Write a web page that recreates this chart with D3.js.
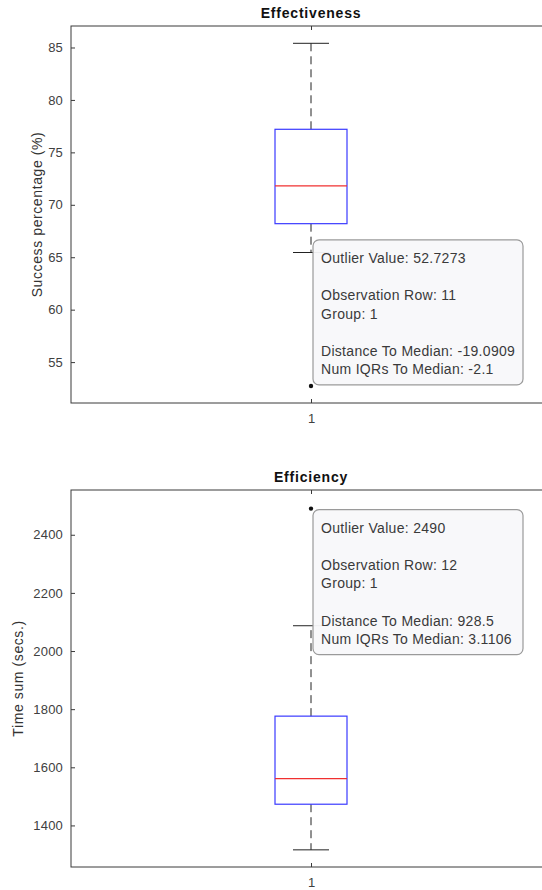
<!DOCTYPE html>
<html>
<head>
<meta charset="utf-8">
<script src="https://cdn.jsdelivr.net/npm/d3@7"></script>
<style>
  body { margin: 0; background: #fff; }
  svg { display: block; font-family: "Liberation Sans", Arial, sans-serif; }
  .tick text { fill: #404040; }
</style>
</head>
<body>
<div id="chart"></div>
<script>
// group labels (single box per panel)
const groups = ['1'];

// Effectiveness panel: [q1, median, q3], whiskers [low, high], outliers
const effBox = [68.2, 71.8, 77.2];
const effWhiskers = [65.45, 85.4];
const effOutliers = [52.7273];
const effTicks = [55, 60, 65, 70, 75, 80, 85];
const effDomain = [51.1, 87.05];
const effTip = ['Outlier Value: 52.7273', '', 'Observation Row: 11', 'Group: 1', '', 'Distance To Median: -19.0909', 'Num IQRs To Median: -2.1'];

// Efficiency panel
const timeBox = [1473, 1561, 1776];
const timeWhiskers = [1316, 2087];
const timeOutliers = [2490];
const timeTicks = [1400, 1600, 1800, 2000, 2200, 2400];
const timeDomain = [1257, 2554];
const timeTip = ['Outlier Value: 2490', '', 'Observation Row: 12', 'Group: 1', '', 'Distance To Median: 928.5', 'Num IQRs To Median: 3.1106'];

const width = 542, height = 890;

const svg = d3.select('#chart').append('svg')
    .attr('width', width)
    .attr('height', height);

const panels = [
    {
        title: 'Effectiveness', ylabel: 'Success percentage (%)', labelX: 37,
        top: 26, bottom: 403, box: effBox, whiskers: effWhiskers, outliers: effOutliers,
        ticks: effTicks, domain: effDomain, tip: effTip, tipAbove: true
    },
    {
        title: 'Efficiency', ylabel: 'Time sum (secs.)', labelX: 18,
        top: 490, bottom: 867, box: timeBox, whiskers: timeWhiskers, outliers: timeOutliers,
        ticks: timeTicks, domain: timeDomain, tip: timeTip, tipAbove: false
    }
];

const left = 71, right = 551;
const axisColor = '#3a3a3a';

panels.forEach(p => {
    const x = d3.scalePoint().domain(groups).range([left, right]).padding(0.5);
    const y = d3.scaleLinear().domain(p.domain).range([p.bottom, p.top]);
    const g = svg.append('g');

    // frame (box on)
    g.append('rect')
        .attr('x', left).attr('y', p.top)
        .attr('width', right - left).attr('height', p.bottom - p.top)
        .attr('fill', 'none')
        .attr('stroke', axisColor)
        .attr('stroke-width', 1);

    // y axis, ticks pointing inward
    const yAxis = g.append('g')
        .attr('transform', `translate(${left},0)`)
        .call(d3.axisLeft(y).tickValues(p.ticks).tickFormat(d3.format('d'))
            .tickSizeInner(-4).tickSizeOuter(0).tickPadding(8));
    yAxis.select('.domain').remove();
    yAxis.selectAll('.tick line').attr('stroke', axisColor);
    yAxis.selectAll('.tick text').attr('font-size', 13).attr('letter-spacing', 0.2);

    // x axis bottom + top tick marks
    const xAxis = g.append('g')
        .attr('transform', `translate(0,${p.bottom})`)
        .call(d3.axisBottom(x).tickSizeInner(-4).tickSizeOuter(0).tickPadding(11));
    xAxis.select('.domain').remove();
    xAxis.selectAll('.tick line').attr('stroke', axisColor);
    xAxis.selectAll('.tick text').attr('font-size', 13);
    const xTop = g.append('g')
        .attr('transform', `translate(0,${p.top})`)
        .call(d3.axisTop(x).tickSizeInner(-4).tickSizeOuter(0).tickFormat(''));
    xTop.select('.domain').remove();
    xTop.selectAll('.tick line').attr('stroke', axisColor);

    // title
    g.append('text')
        .attr('x', (left + right) / 2)
        .attr('y', p.top - 8)
        .attr('text-anchor', 'middle')
        .attr('font-size', 14)
        .attr('font-weight', 'bold')
        .attr('letter-spacing', 0.8)
        .attr('fill', '#111')
        .text(p.title);

    // y label
    const cy = (p.top + p.bottom) / 2;
    g.append('text')
        .attr('transform', `translate(${p.labelX},${cy}) rotate(-90)`)
        .attr('text-anchor', 'middle')
        .attr('dy', '0.35em')
        .attr('font-size', 14)
        .attr('letter-spacing', 0.6)
        .attr('fill', '#333')
        .text(p.ylabel);

    const cx = x(groups[0]);
    const boxHalf = 36, capHalf = 18;

    // whiskers (dashed)
    g.append('line')
        .attr('x1', cx).attr('x2', cx)
        .attr('y1', y(p.box[2])).attr('y2', y(p.whiskers[1]))
        .attr('stroke', '#222').attr('stroke-dasharray', '8,5');
    g.append('line')
        .attr('x1', cx).attr('x2', cx)
        .attr('y1', y(p.box[0])).attr('y2', y(p.whiskers[0]))
        .attr('stroke', '#222').attr('stroke-dasharray', '8,5');

    // caps
    p.whiskers.forEach(w => {
        g.append('line')
            .attr('x1', cx - capHalf).attr('x2', cx + capHalf)
            .attr('y1', y(w)).attr('y2', y(w))
            .attr('stroke', '#222');
    });

    // box
    g.append('rect')
        .attr('x', cx - boxHalf).attr('width', boxHalf * 2)
        .attr('y', y(p.box[2])).attr('height', y(p.box[0]) - y(p.box[2]))
        .attr('fill', 'none')
        .attr('stroke', '#3a3aff')
        .attr('stroke-width', 1.2);

    // median
    g.append('line')
        .attr('x1', cx - boxHalf).attr('x2', cx + boxHalf)
        .attr('y1', y(p.box[1])).attr('y2', y(p.box[1]))
        .attr('stroke', '#f03030')
        .attr('stroke-width', 1.2);

    // outliers
    g.selectAll('circle.outlier')
        .data(p.outliers).enter()
        .append('circle')
        .attr('class', 'outlier')
        .attr('cx', cx).attr('cy', d => y(d))
        .attr('r', 2.2)
        .attr('fill', '#111');

    // datatip
    const py = y(p.outliers[0]);
    const tipW = 210, tipH = 145;
    const tipX = cx + 2;
    const tipY = p.tipAbove ? py - tipH - 1 : py + 1;
    const tip = g.append('g');
    tip.append('rect')
        .attr('x', tipX).attr('y', tipY)
        .attr('width', tipW).attr('height', tipH)
        .attr('rx', 6)
        .attr('fill', '#f8f8fa')
        .attr('fill-opacity', 0.95)
        .attr('stroke', '#9a9a9a')
        .attr('stroke-width', 1.2);
    tip.selectAll('text')
        .data(p.tip).enter()
        .append('text')
        .attr('x', tipX + 8)
        .attr('y', (d, i) => tipY + 18 + i * 18.6)
        .attr('dy', '0.35em')
        .attr('font-size', 14)
        .attr('letter-spacing', 0.3)
        .attr('fill', '#3a3a3a')
        .text(d => d);
});
</script>
</body>
</html>
